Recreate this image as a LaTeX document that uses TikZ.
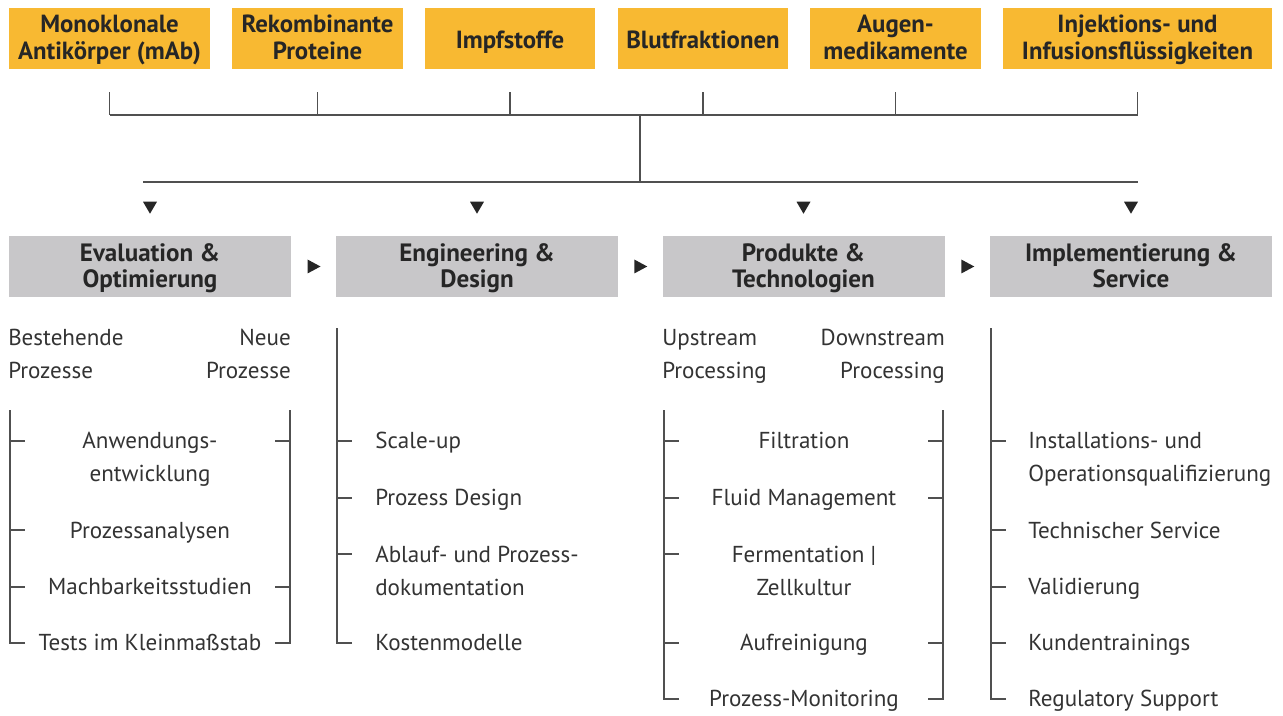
\documentclass[tikz,border=0pt]{standalone}
\usepackage{fontspec}
\setmainfont{PT Sans}
\usetikzlibrary{calc}
\definecolor{yel}{HTML}{F8B932}
\definecolor{gry}{HTML}{C8C7C9}
\definecolor{ln}{HTML}{505050}
\definecolor{txt}{HTML}{333333}
\newcommand{\bstrutx}{\rule[-0.3em]{0pt}{1.1em}}
\newcommand{\twol}[2]{\begin{tabular}[t]{@{}c@{}}#1\\#2\end{tabular}}
\begin{document}
\begin{tikzpicture}[x=0.75pt,y=-0.75pt,
  ybox/.style={fill=yel, minimum height=45.75pt, inner sep=0pt},
  ytext/.style={anchor=base, inner sep=0pt, font=\bfseries\fontsize{18.6}{20.25}\selectfont, text=black!85},
  gbox/.style={fill=gry, minimum height=45.75pt, minimum width=211.5pt, inner sep=0pt},
  gtext/.style={anchor=base, inner sep=0pt, font=\bfseries\fontsize{18.8}{19.5}\selectfont, text=black!85},
  conn/.style={draw=ln, line width=1.1pt},
  body/.style={inner sep=0pt, text=txt, font=\fontsize{17.3}{24.75}\selectfont},
  one/.style={anchor=mid, yshift=-3pt},
  onew/.style={anchor=mid west, yshift=-3pt},
  two/.style={yshift=-2.25pt, execute at begin node=\bstrutx, execute at end node=\bstrutx},
  tri/.style={fill=black!85},
]
\useasboundingbox (0,0) rectangle (1283,716);

% top boxes
\node[ybox, minimum width=150.75pt] (b1) at (109.5,38.5) {};
\node[ybox, minimum width=128.25pt] (b2) at (317.5,38.5) {};
\node[ybox, minimum width=127.5pt]  (b3) at (510,38.5)   {};
\node[ybox, minimum width=127.5pt]  (b4) at (703,38.5)   {};
\node[ybox, minimum width=128.25pt] (b5) at (895.5,38.5) {};
\node[ybox, minimum width=201.75pt] (b6) at (1137.5,38.5) {};
\node[ytext] (tb1) at (b1.center |- 0,33)   {\twol{Monoklonale}{Antikörper (mAb)}};
\node[ytext] (tb2) at (b2.center |- 0,33)   {\twol{Rekombinante}{Proteine}};
\node[ytext] (tb3) at (b3.center |- 0,48.5) {Impfstoffe};
\node[ytext] (tb4) at (b4.center |- 0,48.5) {Blutfraktionen};
\node[ytext] (tb5) at (b5.center |- 0,33)   {\twol{Augen-}{medikamente}};
\node[ytext] (tb6) at (b6.center |- 0,33)   {\twol{Injektions- und}{Infusionsflüssigkeiten}};

% tree
\coordinate (hb) at (640,115);
\coordinate (h2) at (640,182);
\coordinate (l2a) at (143,182);
\foreach \b in {b1,b2,b3,b4,b5,b6}
  \draw[conn] ($(\b.south)+(0,23)$) -- (\b.south |- hb);
\draw[conn] (b1.south |- hb) -- (b6.south |- hb);
\draw[conn] (hb) -- (h2);
\draw[conn] (l2a) -- (b6.south |- h2);

% stage boxes
\node[gbox] (g1) at (150,266.5)   {};
\node[gbox] (g2) at (477,266.5)   {};
\node[gbox] (g3) at (803.5,266.5) {};
\node[gbox] (g4) at (1131,266.5)  {};
\node[gtext] (tg1) at (g1.center |- 0,262) {\twol{Evaluation \&}{Optimierung}};
\node[gtext] (tg2) at (g2.center |- 0,262) {\twol{Engineering \&}{Design}};
\node[gtext] (tg3) at (g3.center |- 0,262) {\twol{Produkte \&}{Technologien}};
\node[gtext] (tg4) at (g4.center |- 0,262) {\twol{Implementierung \&}{Service}};

% down triangles
\foreach \g in {g1,g2,g3,g4}
  \fill[tri] ($(\g.north)+(0,-28)$) ++(-7,-6) -- ++(14,0) -- ++(-7,12) -- cycle;
% right triangles
\fill[tri] ($(g1.east)!0.5!(g2.west)$) ++(-6,-7) -- ++(0,14) -- ++(13,-7) -- cycle;
\fill[tri] ($(g2.east)!0.5!(g3.west)$) ++(-6,-7) -- ++(0,14) -- ++(13,-7) -- cycle;
\fill[tri] ($(g3.east)!0.5!(g4.west)$) ++(-6,-7) -- ++(0,14) -- ++(13,-7) -- cycle;

% column 1
\node[body, two, anchor=west, align=left]  (c1a) at (8,354.5)   {Bestehende\\Prozesse};
\node[body, two, anchor=east, align=right] (c1b) at (291,354.5) {Neue\\Prozesse};
\node[body, two, align=center] (c1i1) at (150,457.5) {Anwendungs-\\entwicklung};
\node[body, one] (c1i2) at (150,531) {Prozessanalysen};
\node[body, one] (c1i3) at (150,587) {Machbarkeitsstudien};
\node[body, one] (c1i4) at (150,643) {Tests im Kleinmaßstab};
\draw[conn] (25,643) -- (10,643) -- (10,410);
\foreach \y in {441,530,587} \draw[conn] (10,\y) -- (25,\y);
\draw[conn] (275,643) -- (290,643) -- (290,410);
\foreach \y in {441,587} \draw[conn] (290,\y) -- (275,\y);

% column 2
\node[body, onew] (c2i1) at (375,441) {Scale-up};
\node[body, onew] (c2i2) at (375,498) {Prozess Design};
\node[body, two, anchor=west, align=left] (c2i3) at (375,571) {Ablauf- und Prozess-\\dokumentation};
\node[body, onew] (c2i4) at (375,643) {Kostenmodelle};
\draw[conn] (352,643) -- (337,643) -- (337,328);
\foreach \y in {441,498,554} \draw[conn] (337,\y) -- (352,\y);

% column 3
\node[body, two, anchor=west, align=left]  (c3a) at (662,354.5) {Upstream\\Processing};
\node[body, two, anchor=east, align=right] (c3b) at (945,354.5) {Downstream\\Processing};
\node[body, one] (c3i1) at (804,441) {Filtration};
\node[body, one] (c3i2) at (804,498) {Fluid Management};
\node[body, two, align=center] (c3i3) at (804,571) {Fermentation |\\Zellkultur};
\node[body, one] (c3i4) at (804,643) {Aufreinigung};
\node[body, one] (c3i5) at (804,699) {Prozess-Monitoring};
\draw[conn] (679,699) -- (664,699) -- (664,410);
\foreach \y in {441,498,554,643} \draw[conn] (664,\y) -- (679,\y);
\draw[conn] (928,699) -- (943,699) -- (943,410);
\foreach \y in {441,498,643} \draw[conn] (943,\y) -- (928,\y);

% column 4
\node[body, two, anchor=west, align=left] (c4i1) at (1028,457.5) {Installations- und\\Operationsqualifizierung};
\node[body, onew] (c4i2) at (1028,531) {Technischer Service};
\node[body, onew] (c4i3) at (1028,587) {Validierung};
\node[body, onew] (c4i4) at (1028,643) {Kundentrainings};
\node[body, onew] (c4i5) at (1028,699) {Regulatory Support};
\draw[conn] (1006,699) -- (991,699) -- (991,328);
\foreach \y in {441,530,587,643} \draw[conn] (991,\y) -- (1006,\y);
\end{tikzpicture}
\end{document}
